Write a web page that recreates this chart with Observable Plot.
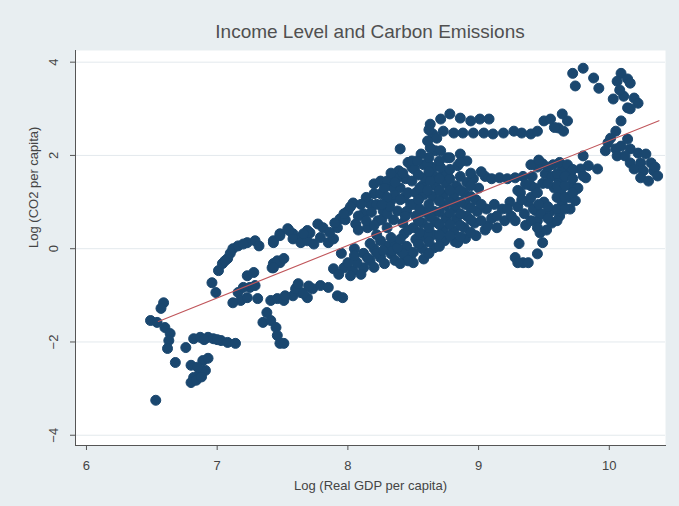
<!DOCTYPE html>
<html>
<head>
<meta charset="utf-8">
<script src="https://cdn.jsdelivr.net/npm/d3@7"></script>
<script src="https://cdn.jsdelivr.net/npm/@observablehq/plot@0.6"></script>
<style>
  html, body { margin: 0; padding: 0; background: #e8eef1; }
  #wrap { width: 679px; height: 506px; background: #e8eef1; font-family: "Liberation Sans", Arial, sans-serif; }
  #title { height: 50px; margin-left: 61px; width: 618px; text-align: center; font-size: 19px; line-height: 64px; color: #505050; }
</style>
</head>
<body>
<div id="wrap">
  <div id="title">Income Level and Carbon Emissions</div>
  <div id="chart"></div>
</div>
<script>
// Tick values
const gdpTicks = [6, 7, 8, 9, 10];
const co2Ticks = [-4, -2, 0, 2, 4];

// Points [log real GDP per capita, log CO2 per capita]
const lowIncome = [
  [6.53,-3.25],
  [6.59,-1.16],[6.57,-1.28],[6.49,-1.54],[6.54,-1.58],[6.60,-1.69],[6.64,-1.82],[6.63,-1.97],[6.62,-2.14],[6.68,-2.44],
  [6.80,-2.50],[6.82,-2.76],[6.80,-2.87],[6.89,-2.40],[6.93,-2.35],[6.87,-2.67],[6.91,-2.61],[6.85,-2.54],[6.84,-2.82],[6.88,-2.75],
  [6.76,-2.12],[6.82,-1.93],[6.87,-1.90],[6.93,-1.90],[6.97,-1.93],[7.03,-1.97],[7.08,-2.01],[7.14,-2.03],[6.90,-1.95],[7.00,-1.95]
];
const lowerMiddle = [
  [6.99,-0.94],[6.96,-0.73],[7.01,-0.47],[7.04,-0.32],[7.08,-0.21],[7.12,0.00],[7.16,0.06],[7.23,0.13],[7.29,0.17],[7.32,0.06],[7.06,-0.26],[7.10,-0.10],[7.20,0.10],
  [7.43,0.17],[7.48,0.32],[7.54,0.43],[7.58,0.32],[7.64,0.24],[7.69,0.39],
  [7.16,-0.94],[7.18,-1.11],[7.23,-1.05],[7.25,-0.83],[7.29,-0.79],[7.28,-0.51],[7.23,-0.58],[7.31,-1.07],[7.20,-0.83],[7.12,-1.16],[7.42,-0.41],[7.48,-0.30],[7.43,-0.32],
  [7.41,-1.11],[7.46,-1.07],[7.51,-1.11],[7.58,-1.01],[7.61,-0.83],[7.64,-0.94],[7.69,-1.05],
  [7.38,-1.37],[7.35,-1.58],[7.41,-1.54],[7.45,-1.69],[7.46,-1.86],[7.48,-2.03],[7.51,-2.03]
];
const middleLow = [
  [7.52,-1.01],[7.60,-0.86],[7.66,-0.96],[7.73,-0.86],[7.79,-0.79],[7.85,-0.83],[7.92,-1.01],[7.96,-1.05],[7.62,-0.75],[7.70,-0.80],
  [7.89,-0.43],[7.97,-0.41],[8.04,-0.47],[8.12,-0.41],[8.17,-0.26],[8.25,-0.19],[8.33,-0.11],[8.40,-0.04],[8.00,-0.30],[8.07,-0.30],
  [7.93,-0.55],[8.02,-0.58],[8.10,-0.55],[8.20,-0.40],[8.28,-0.32],[8.36,-0.25],[8.44,-0.18],
  [7.46,-0.26],[7.51,-0.21],[7.43,-0.41],
  [7.95,-0.10],[8.05,0.00],[8.12,-0.10],[8.20,0.00],[8.30,0.05],[8.36,0.10],[8.45,0.05],[8.48,-0.15],
  [8.05,-0.15],[8.15,-0.20],[8.22,-0.10],[8.34,-0.05],[8.42,-0.10]
];
const middleHigh = [
  [7.43,0.13],[7.48,0.28],[7.55,0.39],[7.58,0.21],[7.64,0.13],[7.69,0.17],[7.71,0.34],[7.77,0.53],[7.81,0.45],[7.79,0.24],
  [7.85,0.13],[7.89,0.21],[7.92,0.45],[7.94,0.64],[8.00,0.81],[8.04,0.98],[8.06,0.53],[8.15,0.45],[8.12,0.75],[8.17,0.96],
  [8.20,1.18],[8.20,1.39],[8.25,1.45],[8.30,1.45],[8.35,1.30],[8.39,1.67],[8.33,1.03],[8.27,0.81],[8.38,0.81],[8.43,1.09],
  [8.25,1.18],[8.23,0.60],[8.30,0.45],[8.17,0.11],[8.25,0.17],[8.33,0.24],[8.43,0.32],[8.38,0.02],[8.27,-0.04],[7.66,0.32],
  [7.74,0.10],[7.98,0.62],[8.08,0.70],[8.14,1.10],[8.10,0.95],[8.22,0.95],[8.28,1.30],[8.35,0.62],[8.42,0.55],[8.45,0.80],
  [8.40,1.30],[8.44,1.50],[8.37,1.50],[8.33,1.62],[8.46,1.20],[8.48,0.95],[8.40,2.14],[8.49,1.74],
  [7.86,0.35],[7.90,0.55],[7.97,0.75],[8.02,0.90],[8.08,0.40],[8.14,0.60],[8.18,0.78],[8.22,0.30],[8.20,0.50],[8.26,0.62],
  [8.30,0.75],[8.32,0.90],[8.36,1.15],[8.40,1.05],[8.44,0.70],[8.46,0.40],[8.40,0.20],[8.30,1.10],[8.26,0.95],[8.36,1.42],
  [8.42,1.62],[8.46,1.85]
];
const upperMiddle = [
  [8.50,-0.30],[8.50,-0.08],[8.52,0.20],[8.50,0.45],[8.52,0.70],[8.50,0.95],[8.52,1.20],[8.49,1.45],[8.51,1.70],[8.49,1.88],
  [8.58,-0.22],[8.57,0.00],[8.59,0.25],[8.57,0.55],[8.59,0.78],[8.58,1.15],[8.57,1.35],[8.59,1.52],[8.58,1.80],[8.56,2.03],
  [8.66,0.02],[8.65,0.30],[8.67,0.58],[8.66,0.80],[8.65,1.12],[8.67,1.35],[8.66,1.56],[8.65,1.74],[8.67,2.10],[8.63,2.16],
  [8.74,0.17],[8.73,0.40],[8.75,0.65],[8.74,0.92],[8.73,1.15],[8.75,1.40],[8.73,1.60],[8.71,1.74],[8.71,2.10],[8.76,1.95],
  [8.82,0.15],[8.81,0.38],[8.83,0.62],[8.82,0.88],[8.81,1.12],[8.83,1.35],[8.84,1.78],[8.78,1.95],[8.86,2.03],
  [8.90,0.22],[8.89,0.45],[8.91,0.70],[8.90,0.95],[8.89,1.20],[8.91,1.42],[8.91,1.88],
  [8.98,0.28],[8.97,0.55],[8.99,0.80],[8.98,1.05],[9.00,1.30],[8.96,1.50],
  [8.53,1.88],[8.61,1.82],[8.46,-0.26],[8.40,-0.32],[8.61,0.32],[8.71,0.21],[8.84,0.13],
  [8.54,0.10],[8.55,0.35],[8.54,0.60],[8.55,0.85],[8.54,1.05],[8.55,1.30],[8.54,1.58],
  [8.62,-0.10],[8.62,0.15],[8.62,0.45],[8.63,0.68],[8.62,0.95],[8.61,1.25],[8.63,1.45],[8.62,1.65],[8.62,1.95],
  [8.70,0.05],[8.70,0.30],[8.70,0.52],[8.70,0.78],[8.70,1.02],[8.70,1.25],[8.70,1.50],[8.70,1.88],
  [8.78,0.28],[8.78,0.52],[8.78,0.76],[8.78,1.00],[8.78,1.25],[8.78,1.50],[8.78,1.70],
  [8.86,0.25],[8.86,0.50],[8.86,0.75],[8.86,1.00],[8.86,1.25],[8.86,1.55],[8.86,1.85],
  [8.94,0.35],[8.94,0.62],[8.94,0.88],[8.94,1.12],[8.94,1.35],[8.94,1.62]
];
const upperArc = [
  [8.63,2.67],[8.71,2.78],[8.78,2.89],[8.86,2.80],[8.94,2.74],[9.01,2.78],[9.08,2.78],[8.65,2.46],[8.73,2.52],[8.81,2.48],
  [8.88,2.48],[8.96,2.48],[9.04,2.48],[9.11,2.46],[9.19,2.48],[9.27,2.52],[9.40,2.46],[8.68,2.37],[8.62,2.55],[9.33,2.48],
  [8.61,2.31],[9.45,2.52],[9.50,2.74],[9.55,2.78],[9.64,2.89],[9.68,2.74],[9.61,2.59],[9.65,2.52],[9.58,2.60]
];
const highMiddle = [
  [9.05,0.40],[9.07,0.49],[9.14,0.45],[9.10,0.65],[9.06,0.85],[9.12,0.95],[9.05,1.55],[9.10,1.50],[9.16,1.52],[9.22,1.50],
  [9.28,1.52],[9.34,1.55],[9.20,0.60],[9.18,0.85],[9.25,0.70],[9.30,0.90],[9.24,1.00],[9.35,0.75],[9.38,1.00],[9.32,1.20],
  [9.40,1.35],[9.02,1.65],[9.30,1.25],
  [9.02,0.60],[9.02,0.95],[9.14,0.70],[9.22,0.85],[9.28,0.60],[9.36,0.50],[9.33,1.05],[9.36,1.38],
  [9.31,0.11],[9.28,-0.19],[9.34,-0.30],[9.38,-0.30],[9.45,-0.11],[9.49,0.13],[9.47,0.34],[9.45,0.60],[9.44,0.81],[9.30,-0.30]
];
const highIncome = [
  [9.40,0.60],[9.42,0.85],[9.40,1.10],[9.43,1.30],[9.41,1.55],[9.45,1.75],
  [9.48,0.75],[9.50,1.00],[9.49,1.40],[9.51,1.60],[9.49,1.82],[9.52,0.40],
  [9.56,0.55],[9.55,0.80],[9.58,1.30],[9.56,1.55],[9.57,1.80],
  [9.62,0.70],[9.64,0.95],[9.63,1.20],[9.62,1.45],[9.64,1.70],[9.62,1.85],
  [9.70,0.85],[9.69,1.10],[9.71,1.35],[9.70,1.60],[9.68,1.80],
  [9.74,1.03],[9.76,1.30],[9.82,1.52],[9.80,1.99],[9.84,1.78],[9.91,1.71],[9.78,1.71],[9.80,1.56],[9.75,1.28],
  [9.40,1.80],[9.46,1.90],[9.45,0.45],[9.46,0.95],[9.45,1.20],[9.53,0.65],[9.53,0.90],[9.53,1.40],[9.53,1.75],
  [9.60,0.60],[9.60,0.85],[9.60,1.10],[9.60,1.35],[9.60,1.60],[9.66,0.85],[9.66,1.10],[9.66,1.35],[9.66,1.55],
  [9.72,1.20],[9.72,1.50],[9.72,1.70]
];
const topIncome = [
  [9.72,3.76],[9.80,3.87],[9.74,3.49],[9.88,3.66],[9.92,3.44],
  [10.09,3.76],[10.06,3.59],[10.14,3.64],[10.16,3.55],[10.03,3.21],[10.11,3.27],[10.19,3.23],[10.22,3.12],[10.14,3.02],[10.16,3.00],[10.08,3.40],
  [10.09,2.74],[10.05,2.52],[10.01,2.37],[9.99,2.27],[9.97,2.10],[10.05,2.14],[10.09,2.20],[10.14,2.35],[10.16,2.14],[10.06,1.99],[10.12,1.99],
  [10.22,2.05],[10.28,2.03],[10.16,1.84],[10.24,1.84],[10.32,1.84],[10.19,1.71],[10.26,1.67],[10.34,1.67],[10.24,1.52],[10.30,1.45],[10.37,1.56],[10.35,1.75]
];

// Fitted values line (endpoints)
const fitGdp = [6.55, 10.38];
const fitCo2 = [-1.56, 2.745];

const points = [...lowIncome, ...lowerMiddle, ...middleLow, ...middleHigh, ...upperMiddle, ...upperArc, ...highMiddle, ...highIncome, ...topIncome]
  .map(([gdp, co2]) => ({gdp, co2}));
const fit = fitGdp.map((g, i) => ({gdp: g, co2: fitCo2[i]}));

const chart = Plot.plot({
  width: 679,
  height: 456,
  marginTop: 0,
  marginLeft: 75,
  marginRight: 14,
  marginBottom: 61,
  style: {background: "transparent", fontFamily: "Liberation Sans, Arial, sans-serif", fontSize: "13px", color: "#444"},
  x: {domain: [5.916, 10.43], ticks: gdpTicks, tickFormat: "d", label: null},
  y: {domain: [-4.22, 4.25], ticks: co2Ticks, tickFormat: "d", label: null},
  marks: [
    Plot.frame({fill: "white", stroke: null}),
    Plot.gridY(co2Ticks, {stroke: "#e3e9ed", strokeOpacity: 1, strokeWidth: 1}),
    Plot.dot(points, {x: "gdp", y: "co2", r: 5, fill: "#1a476f", stroke: "#1a476f", strokeWidth: 1}),
    Plot.line(fit, {x: "gdp", y: "co2", stroke: "#c0565b", strokeWidth: 1.1}),
    Plot.frame({anchor: "left", stroke: "#555"}),
    Plot.frame({anchor: "bottom", stroke: "#555"}),
    Plot.axisX(gdpTicks, {tickSize: 5, tickPadding: 10, tickFormat: "d", stroke: "#555", fill: "#444", fontSize: 13, label: null}),
    Plot.axisY(co2Ticks, {tickSize: 5, tickPadding: 13, tickRotate: -90, tickFormat: "d", stroke: "#555", fill: "#444", fontSize: 13, label: null}),
    Plot.text(["Log (Real GDP per capita)"], {frameAnchor: "bottom", dy: 44, text: d => d, fontSize: 13, fill: "#444"}),
    Plot.text(["Log (CO2 per capita)"], {frameAnchor: "left", dx: -42, rotate: -90, text: d => d, fontSize: 13, fill: "#444"})
  ]
});
document.getElementById("chart").appendChild(chart);
</script>
</body>
</html>
